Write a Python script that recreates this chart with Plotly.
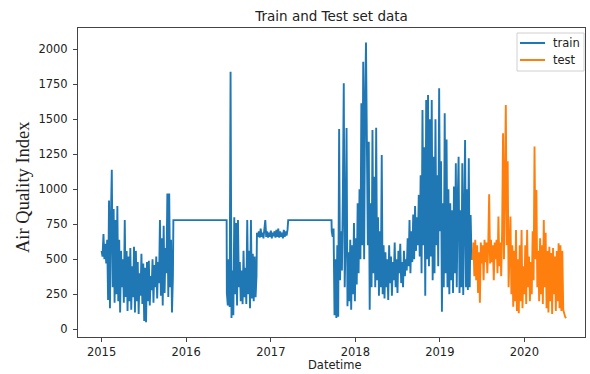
import pandas as pd
import plotly.graph_objects as go

# ---- data ----
# train, 2015 noisy part: every 4 days from 2015-01-01
train_2015_start = "2015-01-01"
train_2015 = [560, 520, 680, 500, 610, 470, 640, 210, 920, 150, 780, 1140, 300, 860, 190, 780,
              250, 880, 200, 640, 120, 560, 300, 500, 190, 780, 230, 560, 130, 520, 200, 580,
              140, 450, 230, 590, 120, 560, 200, 480, 110, 400, 240, 540, 180, 470, 60, 440,
              50, 480, 200, 490, 170, 380, 280, 500, 190, 460, 300, 520, 220, 480, 330, 780,
              240, 650, 170, 740, 260, 580, 400, 970, 230, 970, 300, 640, 120, 380]
# flat part, late 2015 to mid 2016
flat1_dates = ["2015-11-07", "2016-06-24"]
flat1_vals = [780, 780]
# mid 2016 noisy part: every 4 days from 2016-06-25
train_2016_start = "2016-06-25"
train_2016 = [260, 170, 500, 160, 1840, 80, 420, 100, 800, 250, 760, 170, 780, 300, 480, 200,
              420, 180, 560, 230, 440, 180, 780, 250, 560, 150, 780, 220, 540, 200, 520, 230, 380]
# winter 2016/17 band: every 4 days from 2016-11-02
train_band_start = "2016-11-02"
train_band = [690, 660, 700, 655, 720, 660, 690, 650, 700, 780, 660, 700, 655, 690, 660, 705,
              650, 690, 665, 700, 655, 710, 660, 720, 655, 700, 660, 690, 650, 710, 660, 700,
              670, 710]
# flat part, 2017
flat2_dates = ["2017-03-17", "2017-09-20"]
flat2_vals = [780, 780]
# late 2017 to mid 2019: every 4 days from 2017-09-21
train_late_start = "2017-09-21"
train_late = [700, 660, 720, 100, 500, 80, 600, 90, 1430, 350, 700, 420, 940, 1757, 300, 650,
              1438, 165, 550, 200, 640, 140, 600, 250, 760, 200, 650, 320, 900, 400, 1000, 500,
              1614, 600, 1911, 500, 1600, 2049, 1300, 600, 1340, 140, 900, 300, 1423, 400, 1090, 300,
              1440, 350, 800, 240, 700, 300, 1245, 250, 600, 220, 550, 300, 500, 210, 600, 330,
              520, 240, 480, 350, 620, 300, 500, 260, 560, 400, 610, 330, 480, 300, 560, 380,
              500, 420, 650, 450, 780, 400, 700, 480, 820, 500, 880, 560, 800, 600, 960, 520,
              1100, 400, 1566, 600, 1300, 240, 1638, 500, 1674, 450, 1500, 520, 1637, 350, 1233, 400,
              1500, 600, 1100, 450, 1721, 700, 1200, 126, 900, 300, 1543, 400, 1355, 300, 1000, 250,
              900, 350, 850, 260, 1019, 400, 1186, 300, 900, 1233, 260, 850, 300, 1186, 245, 900,
              1352, 300, 1000, 280, 1221, 300, 816, 495]
# test: every 4 days from 2019-05-22
test_start = "2019-05-22"
test_vals = [495, 620, 380, 640, 350, 600, 260, 550, 190, 620, 470, 600, 350, 640, 480, 620,
             400, 590, 965, 470, 640, 480, 600, 350, 620, 500, 640, 400, 805, 450, 620, 380,
             700, 1400, 500, 900, 1602, 600, 1200, 300, 700, 805, 250, 600, 162, 560, 200, 710,
             130, 500, 115, 600, 200, 710, 150, 450, 250, 600, 180, 710, 300, 520, 200, 480,
             250, 700, 350, 1305, 500, 995, 300, 560, 200, 650, 250, 600, 180, 780, 300, 690,
             150, 560, 120, 590, 200, 545, 110, 580, 250, 520, 130, 560, 200, 615, 150, 600,
             130, 560, 140, 110, 90, 80]

series_names = ["train", "test"]
series_colors = ["#1f77b4", "#ff7f0e"]
year_ticks = ["2015-01-01", "2016-01-01", "2017-01-01", "2018-01-01", "2019-01-01", "2020-01-01"]
year_labels = ["2015", "2016", "2017", "2018", "2019", "2020"]
y_ticks = [0, 250, 500, 750, 1000, 1250, 1500, 1750, 2000]


def rng(start, vals):
    return list(pd.date_range(start, periods=len(vals), freq="4D"))


train_x = (rng(train_2015_start, train_2015) + list(pd.to_datetime(flat1_dates)) +
           rng(train_2016_start, train_2016) + rng(train_band_start, train_band) +
           list(pd.to_datetime(flat2_dates)) + rng(train_late_start, train_late))
train_y = train_2015 + flat1_vals + train_2016 + train_band + flat2_vals + train_late
test_x = rng(test_start, test_vals)

fig = go.Figure()
fig.add_trace(go.Scatter(x=train_x, y=train_y, mode="lines", name=series_names[0],
                         line=dict(color=series_colors[0], width=1.9), showlegend=False))
fig.add_trace(go.Scatter(x=test_x, y=test_vals, mode="lines", name=series_names[1],
                         line=dict(color=series_colors[1], width=1.9), showlegend=False))

axis_common = dict(showgrid=False, zeroline=False, showline=True, mirror=True,
                   linecolor="#444", linewidth=1, ticks="outside", ticklen=4,
                   tickcolor="#444", tickfont=dict(family="DejaVu Sans", size=11.5, color="#222"))

# plot area in pixels: x 78..585, y 28..337
W0, W1, H0, H1 = 78.0, 585.0, 28.0, 337.0


def px(xp):
    return (xp - W0) / (W1 - W0)


def py(yp):
    return (H1 - yp) / (H1 - H0)


shapes = [dict(type="rect", xref="paper", yref="paper", x0=px(517), x1=px(584),
               y0=py(71), y1=py(33), line=dict(color="#d0d0d0", width=1),
               fillcolor="white", layer="above")]
annotations = [
    dict(text="Datetime", xref="paper", yref="paper", x=px(334), y=py(365),
         xanchor="center", yanchor="middle", showarrow=False,
         font=dict(family="DejaVu Sans", size=11.5, color="#222")),
    dict(text="Air Quality Index", xref="paper", yref="paper", x=px(23), y=py(187),
         xanchor="center", yanchor="middle", showarrow=False, textangle=-90,
         font=dict(family="Liberation Serif", size=18.5, color="#222")),
]
for i, (nm, col) in enumerate(zip(series_names, series_colors)):
    yy = 43 + 17 * i
    shapes.append(dict(type="line", xref="paper", yref="paper", x0=px(520), x1=px(545),
                       y0=py(yy), y1=py(yy), line=dict(color=col, width=2), layer="above"))
    annotations.append(dict(text=nm, xref="paper", yref="paper", x=px(551), y=py(yy),
                            xanchor="left", yanchor="middle", showarrow=False,
                            font=dict(family="DejaVu Sans", size=11.5, color="#222")))

fig.update_layout(
    width=590, height=374,
    margin=dict(l=78, r=5, t=28, b=37),
    paper_bgcolor="white", plot_bgcolor="white",
    title=dict(text="Train and Test set data", x=0.5, xref="paper", xanchor="center",
               y=1 - 16 / 374, yref="container", yanchor="middle",
               font=dict(family="DejaVu Sans", size=13.5, color="#222")),
    xaxis=dict(type="date", range=["2014-09-21", "2020-09-19"],
               tickvals=year_ticks, ticktext=year_labels, **axis_common),
    yaxis=dict(range=[-55, 2152], tickvals=y_ticks, ticklabelstandoff=3, **axis_common),
    showlegend=False,
    shapes=shapes,
    annotations=annotations,
)

fig.write_html("out.html")
